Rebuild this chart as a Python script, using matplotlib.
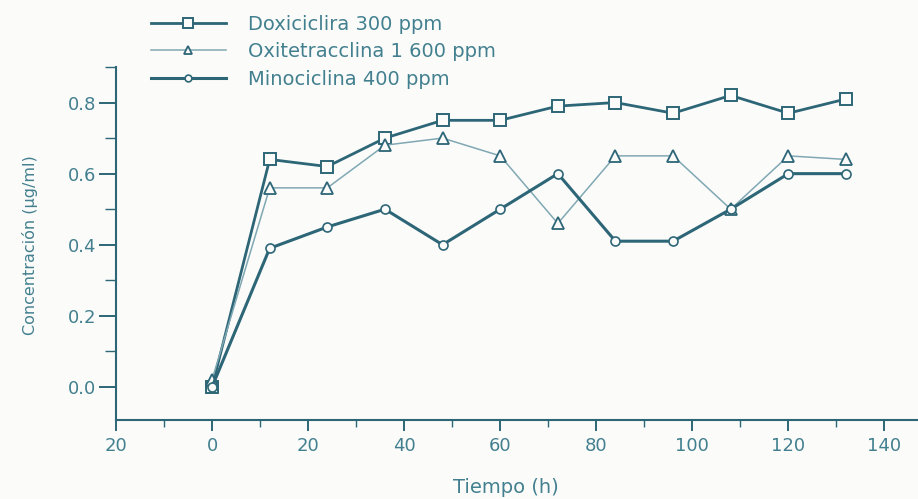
import matplotlib
matplotlib.use('Agg')
import matplotlib.pyplot as plt
from matplotlib.ticker import MultipleLocator, FixedLocator

# %% datos
tiempo = [0, 12, 24, 36, 48, 60, 72, 84, 96, 108, 120, 132]
doxi   = [0.00, 0.64, 0.62, 0.70, 0.75, 0.75, 0.79, 0.80, 0.77, 0.82, 0.77, 0.81]
oxi    = [0.02, 0.56, 0.56, 0.68, 0.70, 0.65, 0.46, 0.65, 0.65, 0.50, 0.65, 0.64]
mino   = [0.00, 0.39, 0.45, 0.50, 0.40, 0.50, 0.60, 0.41, 0.41, 0.50, 0.60, 0.60]

series = ["Doxiciclira 300 ppm", "Oxitetracclina 1 600 ppm", "Minociclina 400 ppm"]
xticks = [-20, 0, 20, 40, 60, 80, 100, 120, 140]
xtick_labels = ["20", "0", "20", "40", "60", "80", "100", "120", "140"]
yticks = [0.0, 0.2, 0.4, 0.6, 0.8]

# %%
dark  = '#2d6677'
light = '#80a8b3'
txt   = '#43808f'
plt.rcParams['font.family'] = ['DejaVu Sans']

fig = plt.figure(figsize=(9.18, 4.99), dpi=100, facecolor='#fbfbfa')
ax = fig.add_axes([116/918, 1 - 420/499, 1 - 116/918, (420 - 67)/499])
ax.set_facecolor('#fbfbfa')

l1, = ax.plot(tiempo, doxi, color=dark, lw=2.0, marker='s', ms=9,
              mfc='#fbfbfa', mec=dark, mew=1.4)
l2, = ax.plot(tiempo, oxi, color=light, lw=1.1, marker='^', ms=8,
              mfc='#fbfbfa', mec=dark, mew=1.3)
l3, = ax.plot(tiempo, mino, color=dark, lw=2.2, marker='o', ms=6.5,
              mfc='#fbfbfa', mec=dark, mew=1.2)

ax.set_xlim(-20, 147)
ax.set_ylim(-0.093, 0.9)

for s in ['top', 'right']:
    ax.spines[s].set_visible(False)
for s in ['left', 'bottom']:
    ax.spines[s].set_color(dark)
    ax.spines[s].set_linewidth(1.5)

ax.xaxis.set_major_locator(FixedLocator(xticks))
ax.set_xticklabels(xtick_labels)
ax.xaxis.set_minor_locator(MultipleLocator(10))
ax.yaxis.set_major_locator(FixedLocator(yticks))
ax.set_yticklabels([f"{v:.1f}" for v in yticks])
ax.yaxis.set_minor_locator(MultipleLocator(0.1))

ax.tick_params(axis='both', which='both', direction='out', color=dark,
               labelcolor=txt, labelsize=13)
ax.tick_params(axis='x', which='major', length=8, width=1.4, pad=4)
ax.tick_params(axis='x', which='minor', length=5, width=1.0)
ax.tick_params(axis='y', which='major', length=12, width=1.4, pad=2)
ax.tick_params(axis='y', which='minor', length=8, width=1.0)

ax.set_xlabel("Tiempo (h)", color=txt, fontsize=14)
ax.xaxis.set_label_coords(0.486, -0.165)
ax.set_ylabel("Concentración (µg/ml)", color=txt, fontsize=11.5)
ax.yaxis.set_label_coords(-0.097, 0.496)

fig.legend([l1, l2, l3], series, loc='upper left', bbox_to_anchor=(133/918, 1 + 3/499),
           frameon=False, fontsize=14, labelcolor=txt, handlelength=3.9,
           handletextpad=1.1, labelspacing=0.45, markerscale=0.75)

fig.savefig('out.png', dpi=100, facecolor=fig.get_facecolor())
